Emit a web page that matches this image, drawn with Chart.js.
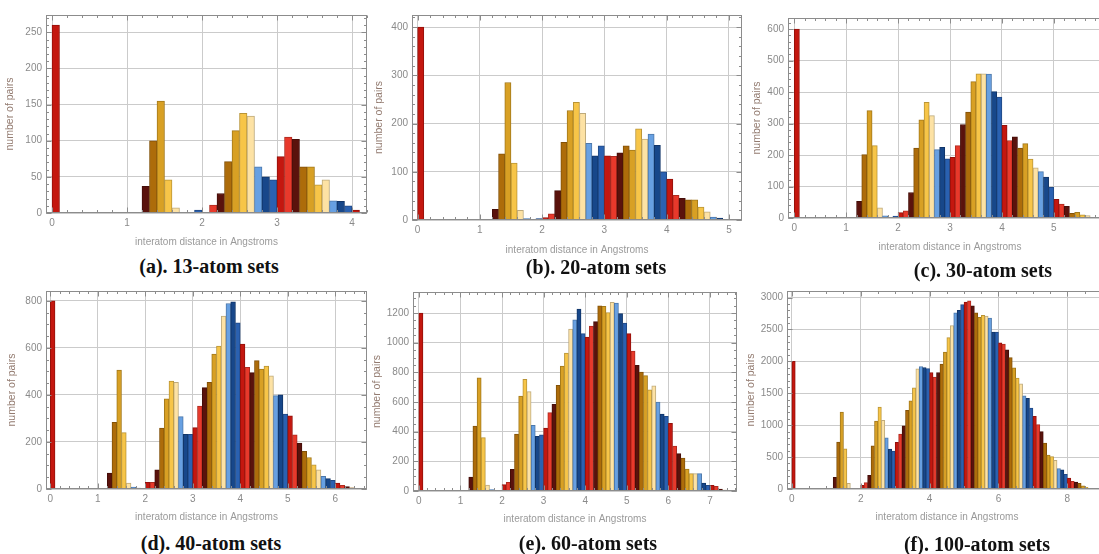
<!DOCTYPE html>
<html>
<head>
<meta charset="utf-8">
<script src="https://cdn.jsdelivr.net/npm/chart.js@4.4.1/dist/chart.umd.min.js"></script>
<style>
  html, body { margin: 0; padding: 0; background: #fff; width: 1099px; height: 554px; overflow: hidden; position: relative; }
  canvas { position: absolute; }
  .cap { position: absolute; width: 300px; text-align: center; font: bold 20px "Liberation Serif", "Times New Roman", serif; color: #111; line-height: 22px; white-space: nowrap; }
</style>
</head>
<body>
<script>
// Histogram bin width (Angstrom); value i of each array is the count in [i*BIN, (i+1)*BIN)
const BIN = 0.1;

const counts13 = [
  260, 0, 0, 0, 0, 0, 0, 0, 0, 0,
  0, 0, 37, 100, 155, 46, 7, 0, 0, 4,
  0, 11, 27, 71, 114, 138, 134, 64, 50, 46,
  78, 105, 102, 64, 64, 39, 46, 17, 16, 10,
  4
];
const counts20 = [
  400, 0, 0, 0, 0, 0, 0, 0, 0, 0,
  0, 0, 22, 137, 285, 118, 20, 3, 0, 3,
  5, 13, 61, 161, 227, 244, 221, 159, 133, 154,
  133, 132, 139, 154, 145, 189, 168, 178, 155, 100,
  85, 51, 45, 42, 42, 27, 17, 6, 4
];
const counts30 = [
  600, 0, 0, 0, 0, 0, 0, 0, 0, 0,
  0, 0, 53, 201, 341, 230, 32, 7, 2, 6,
  17, 23, 81, 222, 312, 367, 325, 217, 224, 188,
  193, 230, 297, 336, 433, 458, 458, 457, 401, 384,
  294, 246, 258, 222, 236, 187, 159, 147, 130, 97,
  59, 44, 37, 15, 18, 10, 8
];
const counts40 = [
  800, 0, 0, 0, 0, 0, 0, 0, 0, 0,
  0, 0, 68, 283, 506, 240, 25, 8, 4, 0,
  28, 28, 82, 259, 383, 459, 454, 308, 233, 233,
  261, 353, 431, 454, 574, 608, 735, 789, 796, 707,
  616, 517, 495, 546, 510, 523, 481, 397, 400, 319,
  311, 230, 195, 160, 134, 103, 82, 54, 44, 37,
  25, 16, 10, 5, 3
];
const counts60 = [
  1200, 0, 0, 0, 0, 0, 0, 0, 0, 0,
  0, 0, 94, 438, 764, 360, 40, 9, 4, 5,
  43, 58, 146, 384, 640, 753, 670, 443, 369, 378,
  425, 528, 584, 712, 843, 930, 1092, 1155, 1227, 1061,
  1038, 1112, 1142, 1249, 1245, 1204, 1272, 1267, 1196, 1133,
  1061, 944, 847, 802, 778, 683, 710, 600, 519, 503,
  456, 303, 252, 222, 148, 117, 117, 117, 54, 38,
  38, 31, 13, 6
];
const counts100 = [
  2000, 0, 0, 0, 0, 0, 0, 0, 0, 0,
  0, 0, 183, 736, 1205, 631, 89, 0, 0, 0,
  57, 99, 214, 678, 1064, 1283, 1075, 803, 626, 595,
  730, 861, 991, 1231, 1382, 1586, 1883, 1920, 1904, 1888,
  1826, 1753, 1826, 1956, 2144, 2373, 2561, 2760, 2800, 2890,
  2930, 2950, 2870, 2760, 2690, 2720, 2710, 2680, 2460, 2460,
  2290, 2270, 2180, 2060, 1900, 1740, 1650, 1460, 1420, 1270,
  1140, 1010, 900, 720, 530, 510, 450, 320, 300, 230,
  170, 120, 110, 90, 50, 25, 10
];

const captions = ['(a). 13-atom sets', '(b). 20-atom sets', '(c). 30-atom sets',
                  '(d). 40-atom sets', '(e). 60-atom sets', '(f). 100-atom sets'];
const xTitle = 'interatom distance in Angstroms';
const yTitle = 'number of pairs';

// Colour of a bar repeats every ten bins
const palette = ['#c4170f', '#e8392b', '#5a120c', '#ad6c0a', '#d8a024',
                 '#f7c548', '#fde2a4', '#67a0e2', '#17478a', '#2a61b1'];

function darken(hex, f) {
  const n = parseInt(hex.slice(1), 16);
  const r = Math.round(((n >> 16) & 255) * f), g = Math.round(((n >> 8) & 255) * f), b = Math.round((n & 255) * f);
  return `rgb(${r},${g},${b})`;
}

// Multiples of step lying inside [min, max]
function multiples(min, max, step) {
  const out = [];
  const k0 = Math.ceil(min / step - 1e-6), k1 = Math.floor(max / step + 1e-6);
  for (let k = k0; k <= k1; k++) out.push(+(k * step).toFixed(6));
  return out;
}

// Frame around the plot area with inward major/minor ticks on all four sides
const frameTicks = {
  id: 'frameTicks',
  afterDatasetsDraw(chart, args, o) {
    const { ctx, chartArea: a, scales: { x, y } } = chart;
    const L = Math.round(a.left) + 0.5, R = Math.round(a.right) - 0.5;
    const T = Math.round(a.top) + 0.5, B = Math.round(a.bottom) - 0.5;
    ctx.save();
    ctx.strokeStyle = '#8c8c8c';
    ctx.lineWidth = 1;
    ctx.beginPath();
    const xt = (v, len) => {
      const p = Math.round(x.getPixelForValue(v)) + 0.5;
      ctx.moveTo(p, B); ctx.lineTo(p, B - len);
      ctx.moveTo(p, T); ctx.lineTo(p, T + len);
    };
    const yt = (v, len) => {
      const p = Math.round(y.getPixelForValue(v)) + 0.5;
      ctx.moveTo(L, p); ctx.lineTo(L + len, p);
      ctx.moveTo(R, p); ctx.lineTo(R - len, p);
    };
    multiples(x.min, x.max, o.xMinor).forEach(v => xt(v, 2.5));
    multiples(x.min, x.max, o.xStep).forEach(v => xt(v, 5));
    multiples(y.min, y.max, o.yMinor).forEach(v => yt(v, 2.5));
    multiples(y.min, y.max, o.yStep).forEach(v => yt(v, 5));
    ctx.stroke();
    ctx.strokeRect(L, T, R - L, B - T);
    ctx.restore();
  }
};

const panels = [
  { counts: counts13, frame: { l: 46, t: 15, w: 321, h: 198 }, xMin: -0.08, xMax: 4.2, yMax: 274,
    xStep: 1, xMinor: 0.2, yStep: 50, yMinor: 10, yTitlePad: 4, xTitlePad: 5, cap: [209, 266] },
  { counts: counts20, frame: { l: 412, t: 15, w: 330, h: 205 }, xMin: -0.09, xMax: 5.21, yMax: 425,
    xStep: 1, xMinor: 0.2, yStep: 100, yMinor: 20, yTitlePad: 7, xTitlePad: 4, cap: [596, 267] },
  { counts: counts30, frame: { l: 788, t: 18, w: 324, h: 200 }, xMin: -0.12, xMax: 6.12, yMax: 635,
    xStep: 1, xMinor: 0.2, yStep: 100, yMinor: 20, yTitlePad: 9, xTitlePad: 5, cap: [983, 270] },
  { counts: counts40, frame: { l: 46, t: 291, w: 321, h: 198 }, xMin: -0.09, xMax: 6.67, yMax: 842,
    xStep: 1, xMinor: 0.2, yStep: 200, yMinor: 50, yTitlePad: 6, xTitlePad: 6, cap: [211, 543] },
  { counts: counts60, frame: { l: 413, t: 292, w: 324, h: 199 }, xMin: -0.14, xMax: 7.65, yMax: 1342,
    xStep: 1, xMinor: 0.2, yStep: 200, yMinor: 50, yTitlePad: 4, xTitlePad: 6, cap: [588, 543] },
  { counts: counts100, frame: { l: 787, t: 291, w: 320, h: 198 }, xMin: -0.14, xMax: 9.15, yMax: 3103,
    xStep: 2, xMinor: 0.5, yStep: 500, yMinor: 100, yTitlePad: 4, xTitlePad: 6, cap: [977, 544] }
];

const FONT = '"Liberation Sans", Arial, sans-serif';
const PAD_L = 46, PAD_T = 14, PAD_R = 6, AXIS_H = 40;

panels.forEach((p, idx) => {
  const W = p.frame.w + PAD_L + PAD_R, H = p.frame.h + PAD_T + AXIS_H;
  const canvas = document.createElement('canvas');
  canvas.width = W; canvas.height = H;
  canvas.style.width = W + 'px'; canvas.style.height = H + 'px';
  canvas.style.left = (p.frame.l - PAD_L) + 'px';
  canvas.style.top = (p.frame.t - PAD_T) + 'px';
  document.body.appendChild(canvas);

  const pts = p.counts.map((c, i) => ({ x: (i + 0.5) * BIN, y: c, bin: i })).filter(d => d.y > 0);
  const fills = pts.map(d => palette[d.bin % 10]);

  new Chart(canvas, {
    type: 'bar',
    data: {
      datasets: [{
        data: pts,
        backgroundColor: fills,
        borderColor: fills.map(c => darken(c, 0.75)),
        borderWidth: 1,
        borderSkipped: 'bottom',
        barPercentage: 1,
        categoryPercentage: 1
      }]
    },
    options: {
      responsive: false,
      animation: false,
      devicePixelRatio: 1,
      layout: { padding: { top: PAD_T, right: PAD_R, left: 0, bottom: 0 } },
      plugins: {
        legend: { display: false },
        tooltip: { enabled: false },
        frameTicks: { xStep: p.xStep, xMinor: p.xMinor, yStep: p.yStep, yMinor: p.yMinor }
      },
      scales: {
        x: {
          type: 'linear', min: p.xMin, max: p.xMax, offset: false,
          afterBuildTicks(s) { s.ticks = multiples(p.xMin, p.xMax, p.xStep).map(v => ({ value: v })); },
          afterFit(s) { s.height = AXIS_H; },
          grid: { color: '#cbcbcb', drawTicks: false, offset: false },
          border: { display: false },
          ticks: { autoSkip: false, maxRotation: 0, padding: 4,
                   color: '#8a8a8a', font: { family: FONT, size: 10 }, callback: v => String(v) },
          title: { display: true, text: xTitle, color: '#9a9a9a', font: { family: FONT, size: 10 },
                   padding: { top: 0, bottom: p.xTitlePad } }
        },
        y: {
          min: 0, max: p.yMax,
          afterBuildTicks(s) { s.ticks = multiples(0, p.yMax, p.yStep).map(v => ({ value: v })); },
          afterFit(s) { s.width = PAD_L; },
          grid: { color: '#cbcbcb', drawTicks: false },
          border: { display: false },
          ticks: { autoSkip: false, padding: 4,
                   color: '#8a8a8a', font: { family: FONT, size: 10 }, callback: v => String(v) },
          title: { display: true, text: yTitle, color: '#937b70', font: { family: FONT, size: 10.5 },
                   padding: { top: p.yTitlePad, bottom: 0 } }
        }
      }
    },
    plugins: [frameTicks]
  });

  const cap = document.createElement('div');
  cap.className = 'cap';
  cap.textContent = captions[idx];
  cap.style.left = (p.cap[0] - 150) + 'px';
  cap.style.top = (p.cap[1] - 11) + 'px';
  document.body.appendChild(cap);
});
</script>
</body>
</html>
